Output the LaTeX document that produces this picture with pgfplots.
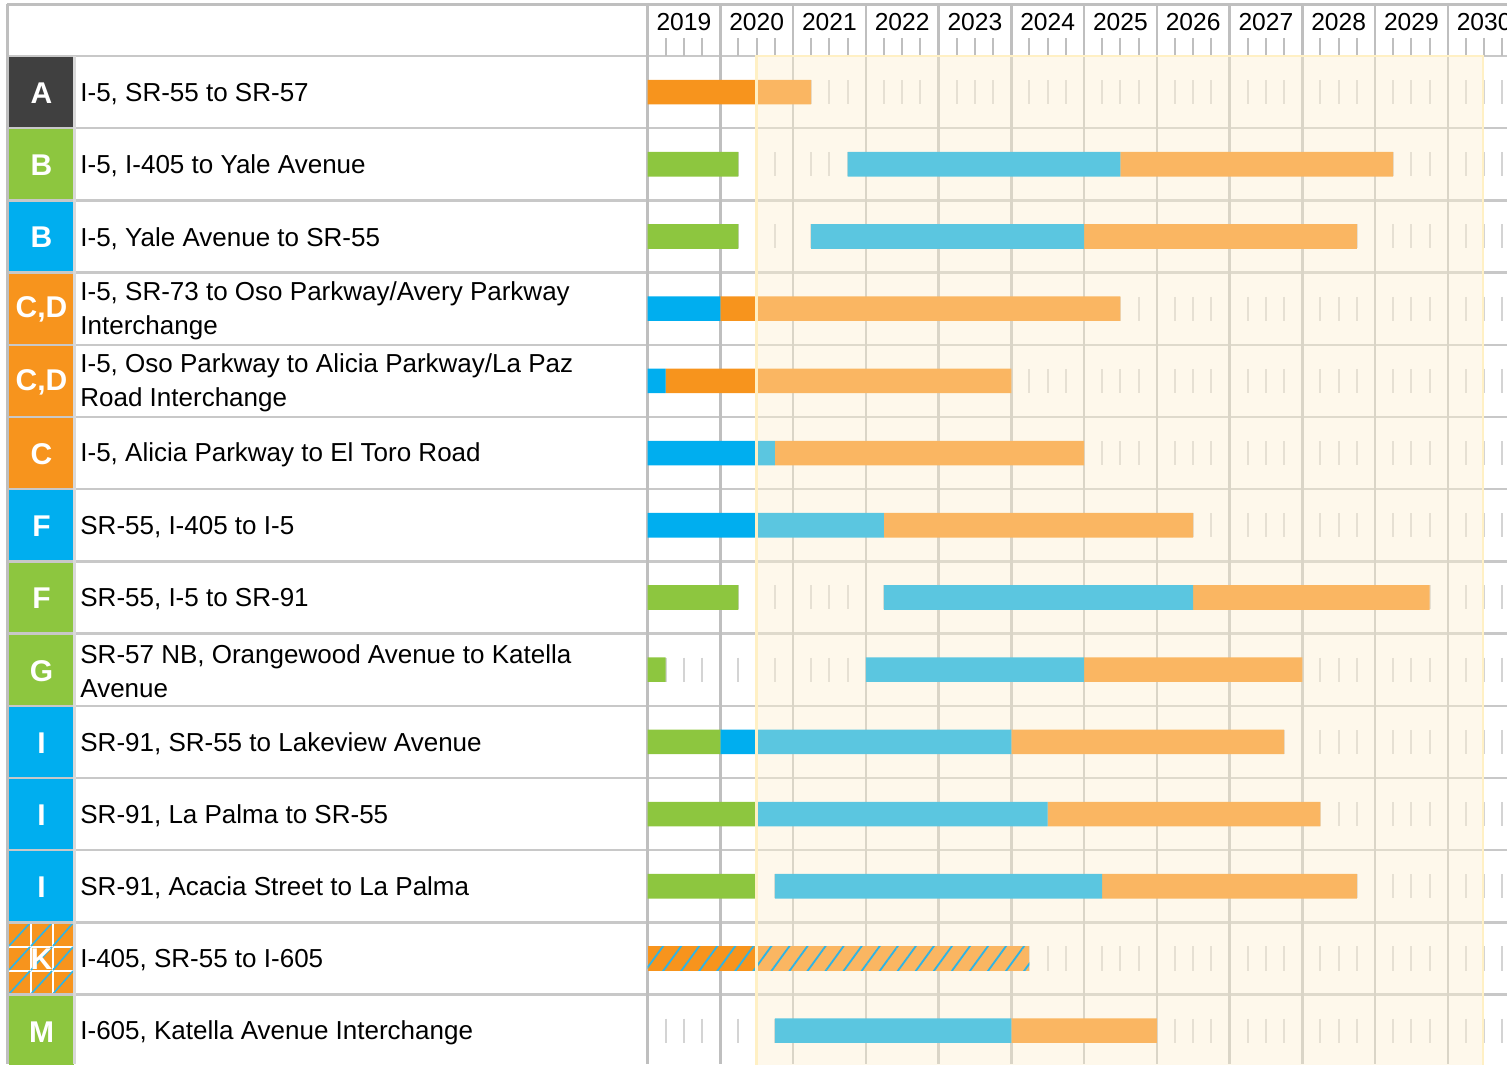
\documentclass[border=0pt]{standalone}
\usepackage{pgfplots}
\pgfplotsset{compat=1.18}
\usepackage{pgfplotstable}
\usepackage{fontspec}
\setmainfont{Liberation Sans}
\usetikzlibrary{patterns.meta}

\definecolor{gridgray}{HTML}{BFBFBF}
\definecolor{rowgray}{HTML}{C8C8C8}
\definecolor{tickgray}{HTML}{D4D4D4}
\definecolor{sepgray}{HTML}{D9D9D9}
\definecolor{shadefill}{RGB}{253,240,210}
\definecolor{shadeedge}{HTML}{FFF0C4}
\definecolor{cgreen}{HTML}{8DC63F}
\definecolor{cblue}{HTML}{00AEEF}
\definecolor{corange}{HTML}{F7941D}
\definecolor{clorange}{HTML}{FAB662}
\definecolor{ccyan}{HTML}{5BC6E0}
\definecolor{cdark}{HTML}{404040}
\definecolor{hatch}{HTML}{2DB4E6}

% start year, then segment lengths in years (stacked)
\pgfplotstableread{
y   base green dblue dorange gap  cyan lorange hdorange hlorange
-1  2019 0     0     1.5     0    0    0.75    0        0
-2  2019 1.25  0     0       1.5  3.75 3.75    0        0
-3  2019 1.25  0     0       1    3.75 3.75    0        0
-4  2019 0     1     0.5     0    0    5       0        0
-5  2019 0     0.25  1.25    0    0    3.5     0        0
-6  2019 0     1.5   0       0    0.25 4.25    0        0
-7  2019 0     1.5   0       0    1.75 4.25    0        0
-8  2019 1.25  0     0       2    4.25 3.25    0        0
-9  2019 0.25  0     0       2.75 3    3       0        0
-10 2019 1     0.5   0       0    3.5  3.75    0        0
-11 2019 1.5   0     0       0    4    3.75    0        0
-12 2019 1.5   0     0       0.25 4.5  3.5     0        0
-13 2019 0     0     0       0    0    0       1.5      3.75
-14 2019 0     0     0       1.75 3.25 2       0        0
}\bars

\begin{document}
\begin{tikzpicture}
\begin{scope}
\clip (0,0) rectangle (753.5pt,532pt);
\begin{scope}[x=0.5pt,y=-0.5pt,shift={(0pt,532pt)}]
  % letter cells
  \foreach \i/\c in {1/cdark,2/cgreen,3/cblue,4/corange,5/corange,6/corange,7/cblue,8/cgreen,9/cgreen,10/cblue,11/cblue,12/cblue,13/corange,14/cgreen}{
    \pgfmathsetmacro\t{56+(\i-1)*72.2}
    \fill[\c] (8.5,\t) rectangle (73.5,{\t+72.2});
  }
  % K cell pattern
  \draw[white, line width=1pt] (30.5,922.4) -- (30.5,994.6) (52.5,922.4) -- (52.5,994.6)
        (8.5,946.7) -- (73.5,946.7) (8.5,970.7) -- (73.5,970.7);
  \foreach \xa/\xb in {9/30,31/52,53/73}{
    \foreach \ya/\yb in {923/946,947/970,971/994}{
      \draw[hatch, line width=0.8pt] (\xa,\yb) -- (\xb,\ya);
    }
  }
  % horizontal row lines
  \foreach \k in {0,...,14}{
    \pgfmathsetmacro\t{56+\k*72.2}
    \draw[rowgray, line width=1.25pt] (7,\t) -- (1507,\t);
  }
  \draw[gridgray, line width=1.25pt] (7,4.5) -- (1507,4.5);
  \draw[gridgray, line width=1.25pt] (7.5,4.5) -- (7.5,1064);
  \draw[sepgray, line width=1.25pt] (74.5,56) -- (74.5,1064);
  % year lines
  \foreach \k in {0,...,11}{
    \pgfmathsetmacro\xx{647.5+\k*72.75}
    \draw[gridgray, line width=1.25pt] (\xx,4.5) -- (\xx,1064);
    \foreach \q in {1,2,3}{
      \pgfmathsetmacro\xq{647.5+(\k+\q/4)*72.75}
      \draw[gridgray, line width=1pt] (\xq,38) -- (\xq,56);
    }
  }
  % quarter ticks in rows
  \foreach \i in {1,...,14}{
    \pgfmathsetmacro\c{92.1+(\i-1)*72.2}
    \foreach \k in {0,...,11}{
      \foreach \q in {1,2,3}{
        \pgfmathsetmacro\xq{647.5+(\k+\q/4)*72.75}
        \draw[tickgray, line width=1pt] (\xq,{\c-12}) -- (\xq,{\c+12});
      }
    }
  }
  % shaded period
  \fill[shadefill, opacity=0.45] (756.6,56) rectangle (1482.7,1070);
  % year labels
  \foreach \k in {0,...,11}{
    \pgfmathsetmacro\xx{647.5+(\k+0.5)*72.75}
    \pgfmathtruncatemacro\yr{2019+\k}
    \node[font=\fontsize{12.3}{14}\selectfont, inner sep=0] at (\xx,22) {\yr};
  }
  % letters
  \foreach \i/\l in {1/A,2/B,3/B,4/{C,D},5/{C,D},6/C,7/F,8/F,9/G,10/I,11/I,12/I,13/K,14/M}{
    \pgfmathsetmacro\c{93.1+(\i-1)*72.2}
    \node[font=\fontsize{15}{16}\selectfont\bfseries, text=white, inner sep=0] at (41.5,\c) {\l};
  }
  % row labels
  \foreach \i/\l in {1/{I-5, SR-55 to SR-57},
                     2/{I-5, I-405 to Yale Avenue},
                     3/{I-5, Yale Avenue to SR-55},
                     4/{I-5, SR-73 to Oso Parkway/Avery Parkway\\Interchange},
                     5/{I-5, Oso Parkway to Alicia Parkway/La Paz\\Road Interchange},
                     6/{I-5, Alicia Parkway to El Toro Road},
                     7/{SR-55, I-405 to I-5},
                     8/{SR-55, I-5 to SR-91},
                     9/{SR-57 NB, Orangewood Avenue to Katella\\Avenue},
                     10/{SR-91, SR-55 to Lakeview Avenue},
                     11/{SR-91, La Palma to SR-55},
                     12/{SR-91, Acacia Street to La Palma},
                     13/{I-405, SR-55 to I-605},
                     14/{I-605, Katella Avenue Interchange}}{
    \pgfmathsetmacro\c{94+(\i-1)*72.2}
    \node[font=\fontsize{13}{17}\selectfont, anchor=west, align=left, inner sep=0] at (80,\c) {\l};
  }
\end{scope}

% x axis: years counted from January 2019
\begin{axis}[at={(0pt,0pt)}, anchor=south west, width=753.5pt, height=532pt,
  scale only axis, hide axis, clip=true,
  xmin=-8.900, xmax=11.814, ymin=-14.462, ymax=0.2756,
  xbar stacked, bar width=12.3pt]
  \addplot[draw=none, fill=none] table[x expr=\thisrow{base}-2019, y=y]{\bars};
  \addplot[draw=none, fill=cgreen] table[x=green, y=y]{\bars};
  \addplot[draw=none, fill=cblue] table[x=dblue, y=y]{\bars};
  \addplot[draw=none, fill=corange] table[x=dorange, y=y]{\bars};
  \addplot[draw=none, fill=none] table[x=gap, y=y]{\bars};
  \addplot[draw=none, fill=ccyan] table[x=cyan, y=y]{\bars};
  \addplot[draw=none, fill=clorange] table[x=lorange, y=y]{\bars};
  \addplot[draw=none, fill=corange, postaction={pattern color=hatch, pattern={Lines[angle=54,distance=7.3pt,line width=0.9pt]}}] table[x=hdorange, y=y]{\bars};
  \addplot[draw=none, fill=clorange, postaction={pattern color=hatch, pattern={Lines[angle=54,distance=7.3pt,line width=0.9pt]}}] table[x=hlorange, y=y]{\bars};
\end{axis}

\begin{scope}[x=0.5pt,y=-0.5pt,shift={(0pt,532pt)}]
  \draw[shadeedge, line width=1.2pt] (756.6,1070) -- (756.6,56) -- (1482.7,56) -- (1482.7,1070);
\end{scope}
\end{scope}
\pgfresetboundingbox
\useasboundingbox (0,0) rectangle (753.5pt,532pt);
\end{tikzpicture}
\end{document}
